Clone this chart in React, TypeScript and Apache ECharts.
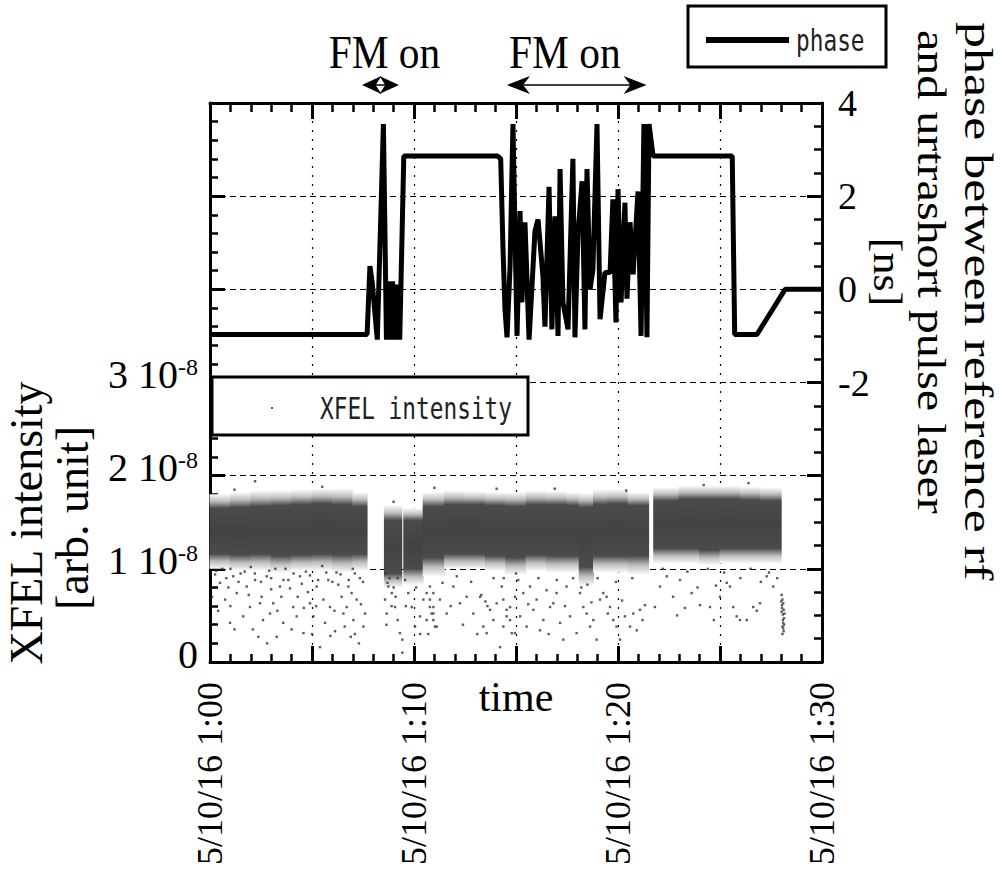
import React, { useEffect, useRef } from "react";
import * as echarts from "echarts";

// time axis: minutes after 5/10/16 1:00
const timeLabelMinutes = [0, 10, 20, 30];
const intensityTickLabels = [0, 1, 2, 3]; // units of 1e-8
const phaseTickLabels = [-2, 0, 2, 4];

// phase between reference rf and ultrashort pulse laser [ns]
const phaseTime = [0, 7.7, 7.84, 7.95, 8.2, 8.5, 8.65, 8.75, 8.85, 8.95, 9.05, 9.15, 9.3, 9.5, 14.1, 14.25, 14.36, 14.46, 14.56, 14.71, 14.85, 15.05, 15.2, 15.29, 15.44, 15.64, 15.93, 16.08, 16.32, 16.42, 16.62, 16.76, 16.91, 17.06, 17.16, 17.3, 17.55, 17.79, 17.89, 18.04, 18.24, 18.38, 18.48, 18.63, 18.77, 18.97, 19.12, 19.36, 19.61, 19.75, 19.9, 20.0, 20.15, 20.34, 20.44, 20.59, 20.74, 20.98, 21.13, 21.27, 21.42, 21.52, 21.72, 25.6, 25.72, 26.81, 28.19, 30];
const phaseNs = [-0.97, -0.97, 0.5, 0.15, -1.08, 3.55, -1.08, 0.17, -1.08, 0.17, -1.08, 0.1, -1.08, 2.86, 2.86, 2.8, 0.92, -0.43, -1.03, 0.5, 3.55, -1.0, 1.68, -0.28, 1.44, -1.08, 1.25, 1.5, 0.28, -0.8, 2.2, -0.86, 1.57, -1.0, 2.58, -0.28, -0.86, 2.8, -1.03, 1.22, 2.32, -0.86, 2.58, 0, 0.43, 3.55, -0.64, 0.36, 0.36, 1.93, -0.71, 2.15, -0.28, 1.86, -0.2, 1.44, 0.32, 2.1, -1.0, 3.55, -1.03, 3.55, 2.86, 2.86, -0.97, -0.97, 0, 0];

// XFEL intensity (units of 1e-8): dense band of shots, per time bin
const bandStart = [0, 1, 2, 3, 4, 5, 6, 7, 8.55, 9.5, 10.45, 11.5, 12.5, 13.5, 14.5, 15.5, 16.5, 17.5, 18.1, 18.8, 19.5, 20.5, 21.75, 23, 24, 25, 26, 27];
const bandEnd = [1, 2, 3, 4, 5, 6, 7, 7.7, 9.4, 10.45, 11.5, 12.5, 13.5, 14.5, 15.5, 16.5, 17.5, 18.1, 18.8, 19.5, 20.5, 21.5, 23, 24, 25, 26, 27, 28];
const coreLow = [1.16, 1.15, 1.16, 1.14, 1.15, 1.16, 1.15, 1.16, 0.95, 1.0, 1.12, 1.16, 1.16, 1.14, 1.12, 1.15, 1.14, 1.14, 1.02, 1.14, 1.14, 1.14, 1.22, 1.22, 1.2, 1.22, 1.22, 1.22];
const coreHigh = [1.65, 1.66, 1.67, 1.68, 1.69, 1.7, 1.69, 1.67, 1.52, 1.52, 1.67, 1.69, 1.69, 1.68, 1.67, 1.69, 1.69, 1.68, 1.66, 1.69, 1.7, 1.68, 1.73, 1.75, 1.75, 1.75, 1.74, 1.73];
const fringeLow = [1.0, 0.98, 0.98, 0.96, 0.98, 0.98, 0.96, 0.98, 0.8, 0.83, 0.92, 1.0, 1.0, 0.98, 0.94, 0.98, 0.96, 0.96, 0.82, 0.96, 0.96, 0.94, 1.06, 1.06, 1.04, 1.06, 1.06, 1.06];
const fringeHigh = [1.8, 1.82, 1.84, 1.84, 1.85, 1.86, 1.86, 1.82, 1.68, 1.65, 1.82, 1.84, 1.83, 1.82, 1.82, 1.84, 1.83, 1.82, 1.81, 1.85, 1.85, 1.82, 1.87, 1.89, 1.89, 1.89, 1.88, 1.87];

// XFEL intensity (units of 1e-8): isolated shots outside the band [minute, intensity]
const xfelSparse: [number, number][] = [
  [0.25, 0.94], [0.49, 0.85], [0.74, 0.67], [0.98, 0.42], [1.14, 0.92], [1.31, 0.74], [1.63, 0.49], [1.8, 0.81], [1.96, 0.59], [2.21, 0.88],
  [2.37, 0.27], [2.45, 0.63], [2.53, 0.7], [2.78, 0.92], [2.94, 0.52], [3.1, 0.63], [3.27, 0.27], [3.43, 0.81], [3.59, 0.42], [3.84, 0.88],
  [3.92, 0.79], [4.08, 0.59], [4.25, 0.49], [4.41, 0.92], [4.58, 0.31], [4.9, 0.63], [5.07, 0.49], [5.23, 0.81], [5.39, 0.16], [5.56, 0.67],
  [5.64, 0.42], [5.8, 0.88], [5.88, 0.59], [6.13, 0.33], [6.29, 0.83], [6.45, 0.7], [6.54, 0.52], [6.7, 0.59], [6.78, 0.81], [6.94, 0.74],
  [7.03, 0.45], [7.19, 0.67], [7.35, 0.9], [7.52, 0.38], [7.6, 0.52], [0.6, 1.0], [1.5, 0.95], [2.0, 1.02], [2.9, 0.98], [3.7, 1.0],
  [4.7, 0.97], [5.5, 1.03], [6.2, 0.96], [7.0, 1.0], [0.4, 0.55], [1.2, 0.35], [2.6, 0.45], [3.3, 0.55], [4.0, 0.35], [4.8, 0.75],
  [5.9, 0.28], [6.6, 0.38], [7.4, 0.62], [6.9, 0.27], [5.2, 0.6], [3.5, 0.7], [1.9, 0.72], [0.9, 0.8], [7.3, 0.2],
  [0.3, 0.98], [0.8, 0.9], [1.0, 1.0], [1.4, 0.86], [1.7, 0.97], [2.2, 0.95], [2.5, 0.86], [3.0, 0.9], [3.2, 1.0], [3.6, 0.88],
  [4.1, 0.95], [4.5, 0.84], [4.9, 0.93], [5.3, 0.88], [5.7, 0.96], [6.0, 0.86], [6.4, 0.94], [6.8, 0.88], [7.1, 0.95], [7.5, 0.86],
  [0.1, 0.7], [1.0, 0.6], [2.1, 0.35], [3.0, 0.78], [4.3, 0.7], [5.0, 0.3], [6.1, 0.55], [7.1, 0.3], [2.8, 0.2], [4.6, 0.58],
  [8.58, 0.67], [8.66, 0.52], [8.74, 0.81], [8.91, 0.74], [9.07, 0.59], [9.31, 0.31], [9.43, 0.24], [9.43, 0.1], [9.56, 0.88], [9.72, 0.74],
  [9.89, 0.59], [10.05, 0.38], [10.29, 0.49], [10.46, 0.67], [10.62, 0.45], [10.78, 0.59], [10.95, 0.74], [10.95, 0.52], [11.11, 0.38], [11.27, 0.67],
  [11.6, 0.52], [11.93, 0.81], [12.25, 0.63], [12.58, 0.7], [12.91, 0.52], [13.24, 0.7], [13.4, 0.38], [13.56, 0.31], [13.73, 0.56], [13.89, 0.45],
  [14.05, 0.63], [14.22, 0.16], [14.38, 0.38], [14.54, 0.49], [14.71, 0.59], [14.95, 0.31], [10.62, 0.74], [10.78, 0.67], [10.86, 0.52], [10.95, 0.45],
  [11.03, 0.38], [10.78, 0.81], [10.95, 0.59], [13.3, 0.72], [13.5, 0.65], [13.6, 0.6], [8.6, 0.95], [8.7, 0.85], [8.8, 0.9], [9.0, 0.8],
  [9.2, 0.9], [8.9, 0.6], [9.1, 0.7], [8.65, 0.4], [9.2, 0.45], [9.6, 0.6], [10.1, 0.8], [10.3, 0.3], [10.7, 0.3], [11.4, 0.85],
  [11.8, 0.6], [12.1, 0.92], [12.4, 0.4], [12.8, 0.86], [13.1, 0.3], [13.9, 0.9], [14.4, 0.9], [15.0, 0.95], [15.6, 0.62], [16.1, 0.9],
  [16.6, 0.3], [17.0, 0.88], [17.4, 0.6], [17.8, 0.9], [18.2, 0.8], [18.5, 0.83], [18.7, 0.64], [19.0, 0.9], [19.5, 0.52], [19.9, 0.86],
  [20.2, 0.66], [20.7, 0.9], [21.2, 0.45],
  [14.3, 0.81], [14.38, 0.67], [14.54, 0.56], [14.71, 0.45], [14.79, 0.31], [14.95, 0.7], [15.11, 0.88], [15.2, 0.49], [15.36, 0.74], [15.52, 0.38],
  [15.69, 0.81], [15.85, 0.56], [16.01, 0.67], [16.18, 0.34], [16.34, 0.45], [16.5, 0.77], [16.67, 0.59], [16.83, 0.63], [16.99, 0.74], [17.16, 0.42],
  [17.32, 0.24], [17.48, 0.81], [17.65, 0.49], [17.97, 0.31], [18.14, 0.74], [18.3, 0.59], [18.46, 0.52], [18.63, 0.38], [18.79, 0.45], [18.95, 0.24],
  [19.12, 0.67], [19.28, 0.74], [19.44, 0.7], [19.61, 0.59], [19.77, 0.45], [19.93, 0.38], [20.1, 0.24], [20.34, 0.49], [20.59, 0.38], [20.75, 0.52],
  [20.92, 0.34], [21.08, 0.56], [21.32, 0.61], [21.81, 0.59], [22.06, 0.81], [22.39, 0.92], [23.04, 0.88], [23.28, 0.58], [23.61, 0.74], [24.02, 0.61],
  [24.51, 0.59], [25.0, 0.7], [25.33, 0.85], [25.49, 0.81], [25.65, 0.59], [25.82, 0.49], [25.98, 0.45], [26.31, 0.45], [26.63, 0.59], [26.96, 0.63],
  [27.29, 0.92], [27.61, 0.81], [22.2, 1.0], [22.7, 0.7], [23.4, 0.97], [23.9, 0.8], [24.4, 1.0], [24.8, 0.82], [25.2, 0.96], [26.0, 0.9],
  [26.5, 1.0], [27.0, 0.86], [27.4, 0.96], [27.8, 0.9], [22.9, 0.5], [24.7, 0.45], [26.8, 0.55],
  [28.02, 0.72], [28.06, 0.67], [28.1, 0.63], [28.04, 0.58], [28.12, 0.56], [28.08, 0.51], [28.14, 0.47], [28.1, 0.42], [28.06, 0.38], [28.12, 0.33],
  [28.04, 0.61], [28.16, 0.52], [28.08, 0.45], [28.02, 0.54], [28.14, 0.4], [28.06, 0.3], [28.1, 0.36], [28.0, 0.65],
  [2.21, 1.94], [14.05, 1.86], [20.4, 1.84], [24.2, 1.9], [5.5, 1.88], [11.0, 1.87], [16.9, 1.86], [26.4, 1.92], [9.0, 1.72], [1.2, 1.85],
];

// "FM on" periods [minutes]
const fmStart = [7.45, 14.56];
const fmEnd = [9.26, 21.4];

const SERIF = "'Liberation Serif', 'Times New Roman', serif";
const MONO = "'DejaVu Sans Mono', monospace";

function pad2(n: number) {
  return n < 10 ? "0" + n : String(n);
}

function bandSeries() {
  const data = bandStart.map((s, i) => [s, bandEnd[i], fringeLow[i], fringeHigh[i], coreLow[i], coreHigh[i]]);
  return {
    type: "custom",
    name: "XFEL intensity",
    xAxisIndex: 0,
    yAxisIndex: 0,
    z: 3,
    silent: true,
    encode: { x: [0, 1], y: [2, 3] },
    renderItem: (params: any, api: any) => {
      const lo = api.value(2);
      const hi = api.value(3);
      const cLo = api.value(4);
      const cHi = api.value(5);
      const p0 = api.coord([api.value(0), hi]);
      const p1 = api.coord([api.value(1), lo]);
      const span = hi - lo;
      const fTop = (hi - cHi) / span;
      const fBot = (hi - cLo) / span;
      const fill = new echarts.graphic.LinearGradient(0, 0, 0, 1, [
        { offset: 0, color: "#fafafa" },
        { offset: fTop * 0.5, color: "#bdbdbd" },
        { offset: fTop, color: "#4b4b4b" },
        { offset: (fTop + fBot) / 2, color: "#424242" },
        { offset: fBot, color: "#4b4b4b" },
        { offset: fBot + (1 - fBot) * 0.5, color: "#bdbdbd" },
        { offset: 1, color: "#fafafa" },
      ]);
      return {
        type: "rect",
        // slight overlap between neighbouring bins hides anti-aliasing seams
        shape: { x: p0[0] - 0.5, y: p0[1], width: p1[0] - p0[0] + 1, height: p1[1] - p0[1] },
        style: { fill },
      };
    },
    data,
  };
}

function arrowElements(x0: number, x1: number, y: number) {
  const L = Math.min(23, (x1 - x0) / 2 + 1);
  const H = 9;
  return [
    { type: "line", z: 100, shape: { x1: x0 + 4, y1: y, x2: x1 - 4, y2: y }, style: { stroke: "#000", lineWidth: 1.5 } },
    { type: "polygon", z: 100, shape: { points: [[x0, y], [x0 + L, y - H], [x0 + L * 0.7, y], [x0 + L, y + H]] }, style: { fill: "#000" } },
    { type: "polygon", z: 100, shape: { points: [[x1, y], [x1 - L, y - H], [x1 - L * 0.7, y], [x1 - L, y + H]] }, style: { fill: "#000" } },
  ];
}

export default function App() {
  const ref = useRef<HTMLDivElement>(null);

  useEffect(() => {
    if (!ref.current) return;
    const chart = echarts.init(ref.current, null, { renderer: "svg" });

    const axisLineStyle = { color: "#000", width: 3 };

    const option: any = {
      animation: false,
      backgroundColor: "#fff",
      grid: { left: 210, right: 178, top: 103, bottom: 214, containLabel: false, outerBoundsMode: "none" },
      xAxis: [
        {
          type: "value",
          min: 0,
          max: 30,
          interval: 5,
          position: "bottom",
          axisLine: { show: true, onZero: false, lineStyle: axisLineStyle },
          axisTick: { show: true, inside: true, length: 16, lineStyle: { color: "#000", width: 3 } },
          minorTick: { show: true, splitNumber: 5, length: 8, lineStyle: { color: "#000", width: 2.5 } },
          splitLine: { show: true, lineStyle: { color: "#000", width: 1.2, type: [2, 7] } },
          axisLabel: {
            rotate: 90,
            margin: 20,
            color: "#000",
            fontFamily: SERIF,
            fontSize: 36,
            formatter: (v: number) => {
              const m = Math.round(v);
              return timeLabelMinutes.includes(m) ? `5/10/16 1:${pad2(m)}` : "";
            },
          },
          name: "time",
          nameLocation: "middle",
          nameGap: 14,
          nameMoveOverlap: false,
          nameTextStyle: { color: "#000", fontFamily: SERIF, fontSize: 42 },
        },
        {
          type: "value",
          min: 0,
          max: 30,
          interval: 5,
          position: "top",
          axisLine: { show: true, onZero: false, lineStyle: axisLineStyle },
          axisTick: { show: true, inside: true, length: 16, lineStyle: { color: "#000", width: 3 } },
          minorTick: { show: true, splitNumber: 5, length: 9, lineStyle: { color: "#000", width: 2.5 } },
          splitLine: { show: false },
          axisLabel: { show: false },
        },
      ],
      yAxis: [
        {
          type: "value",
          min: 0,
          max: 6,
          interval: 1,
          position: "left",
          axisLine: { show: true, onZero: false, lineStyle: axisLineStyle },
          axisTick: { show: true, inside: true, length: 15, lineStyle: { color: "#000", width: 3 } },
          minorTick: { show: true, splitNumber: 5, length: 8, lineStyle: { color: "#000", width: 2.5 } },
          splitLine: { show: true, lineStyle: { color: "#000", width: 1.2, type: [6, 4] } },
          axisLabel: {
            margin: 12,
            color: "#000",
            fontFamily: SERIF,
            fontSize: 40,
            padding: [0, 0, 16, 0],
            formatter: (v: number) => {
              const r = Math.round(v);
              if (Math.abs(v - r) > 1e-6 || !intensityTickLabels.includes(r)) return "";
              return r === 0 ? "0" : `{m|${r} 10}{s|-8}`;
            },
            rich: {
              m: { fontFamily: SERIF, fontSize: 40, color: "#000" },
              s: { fontFamily: SERIF, fontSize: 24, color: "#000", verticalAlign: "top" },
            },
          },
        },
        {
          type: "value",
          min: -8,
          max: 4,
          interval: 2,
          position: "right",
          axisLine: { show: true, onZero: false, lineStyle: axisLineStyle },
          axisTick: { show: true, inside: true, length: 15, lineStyle: { color: "#000", width: 3 } },
          minorTick: { show: true, splitNumber: 4, length: 8, lineStyle: { color: "#000", width: 2.5 } },
          splitLine: { show: false },
          axisLabel: {
            margin: 16,
            color: "#000",
            fontFamily: SERIF,
            fontSize: 38,
            formatter: (v: number) => {
              const r = Math.round(v);
              return phaseTickLabels.includes(r) ? String(r) : "";
            },
          },
        },
      ],
      series: [
        bandSeries(),
        {
          type: "scatter",
          name: "XFEL intensity sparse",
          xAxisIndex: 0,
          yAxisIndex: 0,
          z: 4,
          symbol: "rect",
          symbolSize: [2.4, 2.4],
          itemStyle: { color: "#333" },
          silent: true,
          data: xfelSparse,
        },
        {
          type: "line",
          name: "phase",
          xAxisIndex: 0,
          yAxisIndex: 1,
          z: 5,
          symbol: "none",
          silent: true,
          lineStyle: { color: "#000", width: 5, join: "bevel" },
          data: phaseTime.map((t, i) => [t, phaseNs[i]]),
        },
      ],
    };

    chart.setOption(option);

    const toX = (t: number) => chart.convertToPixel({ xAxisIndex: 0 }, t) as unknown as number;

    const elements: any[] = [];
    // FM on annotations
    const textOffsets = [4, -12];
    fmStart.forEach((s, i) => {
      const x0 = toX(s);
      const x1 = toX(fmEnd[i]);
      elements.push(...arrowElements(x0, x1, 85));
      elements.push({
        type: "text",
        z: 100,
        x: (x0 + x1) / 2 + textOffsets[i],
        y: 52,
        scaleX: 0.9,
        style: { text: "FM on", fontFamily: SERIF, fontSize: 46, fill: "#000", align: "center", verticalAlign: "middle" },
      });
    });

    // phase legend
    elements.push(
      { type: "rect", z: 100, shape: { x: 688, y: 6, width: 198, height: 61 }, style: { fill: "#fff", stroke: "#000", lineWidth: 3 } },
      { type: "line", z: 101, shape: { x1: 706, y1: 40, x2: 789, y2: 40 }, style: { stroke: "#000", lineWidth: 6 } },
      {
        type: "text", z: 101, x: 796, y: 40, scaleX: 0.76,
        style: { text: "phase", fontFamily: MONO, fontSize: 30, fill: "#222", align: "left", verticalAlign: "middle" },
      }
    );
    // XFEL legend
    elements.push(
      { type: "rect", z: 100, shape: { x: 212, y: 377, width: 316, height: 58 }, style: { fill: "#fff", stroke: "#000", lineWidth: 3 } },
      { type: "rect", z: 101, shape: { x: 271, y: 407, width: 2, height: 2 }, style: { fill: "#555" } },
      {
        type: "text", z: 101, x: 320, y: 408, scaleX: 0.76,
        style: { text: "XFEL intensity", fontFamily: MONO, fontSize: 30, fill: "#222", align: "left", verticalAlign: "middle" },
      }
    );
    // left axis title
    elements.push(
      {
        type: "text", z: 100, x: 26, y: 523, rotation: Math.PI / 2,
        style: { text: "XFEL intensity", fontFamily: SERIF, fontSize: 46, fill: "#000", align: "center", verticalAlign: "middle" },
      },
      {
        type: "text", z: 100, x: 72, y: 518, rotation: Math.PI / 2,
        style: { text: "[arb. unit]", fontFamily: SERIF, fontSize: 46, fill: "#000", align: "center", verticalAlign: "middle" },
      }
    );
    // right axis title
    elements.push(
      {
        type: "text", z: 100, x: 978, y: 22, rotation: -Math.PI / 2, scaleX: 1.3,
        style: { text: "phase between reference rf", fontFamily: SERIF, fontSize: 40, fill: "#000", align: "left", verticalAlign: "middle" },
      },
      {
        type: "text", z: 100, x: 931, y: 30, rotation: -Math.PI / 2, scaleX: 1.2,
        style: { text: "and urtrashort pulse laser", fontFamily: SERIF, fontSize: 40, fill: "#000", align: "left", verticalAlign: "middle" },
      },
      {
        type: "text", z: 100, x: 887, y: 272, rotation: -Math.PI / 2, scaleX: 1.1,
        style: { text: "[ns]", fontFamily: SERIF, fontSize: 40, fill: "#000", align: "center", verticalAlign: "middle" },
      }
    );

    chart.setOption({ graphic: { elements } });

    return () => {
      chart.dispose();
    };
  }, []);

  return (
    <div
      ref={ref}
      style={{ position: "absolute", left: 0, top: 0, width: 1000, height: 876, background: "#fff" }}
    />
  );
}
